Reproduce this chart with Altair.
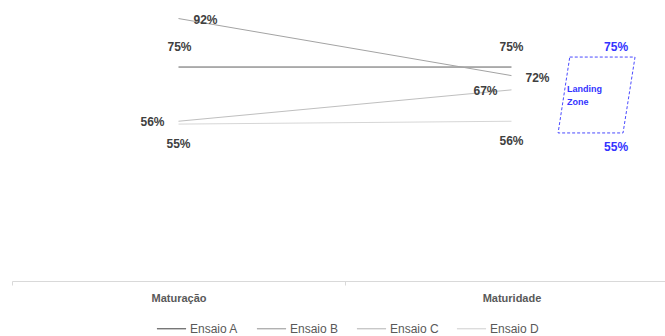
import altair as alt
import pandas as pd

# ---- data ----
stages = ["Maturação", "Maturidade"]
series = ["Ensaio A", "Ensaio B", "Ensaio C", "Ensaio D"]
ensaio_a = [75, 75]
ensaio_b = [92, 72]
ensaio_c = [56, 67]
ensaio_d = [55, 56]
landing_zone = [55, 75]  # low, high
landing_label = "Landing\nZone"

values = {"Ensaio A": ensaio_a, "Ensaio B": ensaio_b,
          "Ensaio C": ensaio_c, "Ensaio D": ensaio_d}

# ---- style / placement (not data) ----
colors = ["#5f5f5f", "#a3a3a3", "#bfbfbf", "#d6d6d6"]
# label offsets (dx, dy) per series and stage
offsets = {
    ("Ensaio A", 0): (1, -20), ("Ensaio A", 1): (0, -20),
    ("Ensaio B", 0): (27, 1), ("Ensaio B", 1): (26, 2),
    ("Ensaio C", 0): (-26, 1), ("Ensaio C", 1): (-26, 1),
    ("Ensaio D", 0): (0, 20), ("Ensaio D", 1): (0, 20),
}

rows = []
for s in series:
    for i, st in enumerate(stages):
        dx, dy = offsets[(s, i)]
        rows.append({"serie": s, "stage": st, "x": i + 0.5,
                     "v": values[s][i], "label": f"{values[s][i]}%",
                     "dx": dx, "dy": dy})
df = pd.DataFrame(rows)

x_max = 1.961
xs = alt.Scale(domain=[0, x_max], nice=False, zero=False)
ys = alt.Scale(domain=[0, 98.5], nice=False)

stage_expr = "datum.value === 0.5 ? '%s' : datum.value === 1.5 ? '%s' : ''" % (stages[0], stages[1])

base = alt.Chart(df)

lines = base.mark_line(strokeWidth=1).encode(
    x=alt.X("x:Q", scale=xs, title=None,
            axis=alt.Axis(values=[0, 0.5, 1, 1.5], labelExpr=stage_expr, grid=False,
                          domainColor="#d9d9d9", tickColor="#d9d9d9", tickSize=4,
                          tickOpacity={"condition": {"test": "datum.value % 1 === 0", "value": 1}, "value": 0},
                          labelFont="Liberation Sans", labelFontSize=11, labelFontWeight="bold",
                          labelColor="#595959", labelPadding=7)),
    y=alt.Y("v:Q", scale=ys, axis=None),
    color=alt.Color("serie:N", scale=alt.Scale(domain=series, range=colors),
                    legend=alt.Legend(title=None, orient="none", direction="horizontal",
                                      legendX=144, legendY=313, symbolType="stroke",
                                      symbolSize=850, symbolStrokeWidth=1.2,
                                      labelFont="Liberation Sans", labelFontSize=12,
                                      labelColor="#595959", columnPadding=15,
                                      labelOffset=3)),
    detail="serie:N",
)

labels = []
for (s, i), (dx, dy) in offsets.items():
    labels.append(
        alt.Chart(df).transform_filter(
            (alt.datum.serie == s) & (alt.datum.x == i + 0.5)
        ).mark_text(dx=dx, dy=dy, font="Liberation Sans", fontSize=12,
                    fontWeight="bold", color="#404040").encode(
            x=alt.X("x:Q", scale=xs), y=alt.Y("v:Q", scale=ys), text="label:N")
    )

# Landing zone parallelogram (around the landing zone range)
lz_lo, lz_hi = landing_zone
top_v, bot_v = lz_hi + 3.5, lz_lo - 3.1
shape = pd.DataFrame({
    "x": [1.675, 1.871, 1.835, 1.640, 1.675],
    "v": [top_v, top_v, bot_v, bot_v, top_v],
    "o": [0, 1, 2, 3, 4],
})
lz_shape = alt.Chart(shape).mark_line(color="#4a4aff", strokeDash=[3, 2], strokeWidth=1).encode(
    x=alt.X("x:Q", scale=xs), y=alt.Y("v:Q", scale=ys), order="o:Q")

lz_df = pd.DataFrame({"x": [1.814, 1.814], "v": [lz_hi, lz_lo],
                      "label": [f"{lz_hi}%", f"{lz_lo}%"]})
lz_hi_t = alt.Chart(lz_df.iloc[[0]]).mark_text(dy=-20, font="Liberation Sans", fontSize=12,
                                               fontWeight="bold", color="#3333ff").encode(
    x=alt.X("x:Q", scale=xs), y=alt.Y("v:Q", scale=ys), text="label:N")
lz_lo_t = alt.Chart(lz_df.iloc[[1]]).mark_text(dy=23, font="Liberation Sans", fontSize=12,
                                               fontWeight="bold", color="#3333ff").encode(
    x=alt.X("x:Q", scale=xs), y=alt.Y("v:Q", scale=ys), text="label:N")

lz_text_df = pd.DataFrame({"x": [1.667], "v": [(lz_lo + lz_hi) / 2], "label": [landing_label]})
lz_text = alt.Chart(lz_text_df).mark_text(align="left", baseline="middle", lineBreak="\n",
                                          lineHeight=13, dy=-7, font="Liberation Sans", fontSize=9,
                                          fontWeight="bold", color="#3333ff").encode(
    x=alt.X("x:Q", scale=xs), y=alt.Y("v:Q", scale=ys), text="label:N")

chart = alt.layer(lines, *labels, lz_shape, lz_hi_t, lz_lo_t, lz_text).properties(
    width=653, height=281,
    autosize=alt.AutoSizeParams(type="none"),
    padding={"left": 12, "top": 0, "right": 0, "bottom": 55},
    background="white",
).configure_view(stroke=None)

chart.save("out.html", embed_options={"renderer": "svg", "actions": False})
